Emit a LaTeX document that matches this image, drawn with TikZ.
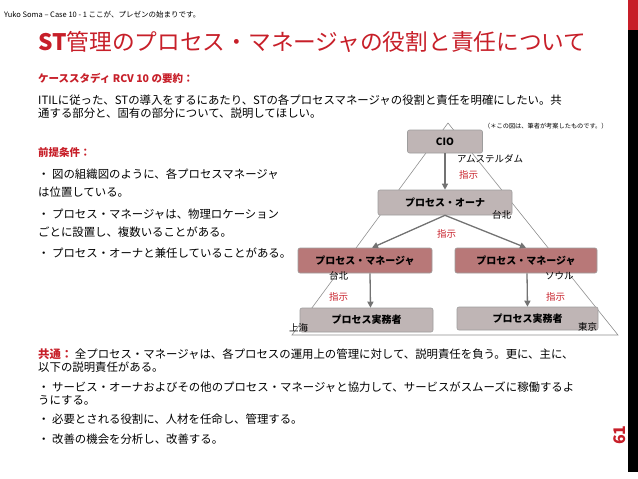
\documentclass[tikz,border=0pt]{standalone}
\usepackage{fontspec}
\setmainfont{Noto Sans CJK JP}
\usetikzlibrary{positioning,arrows.meta}
\definecolor{cred}{rgb}{0.78,0.12,0.16}
\definecolor{cgbox}{rgb}{0.75,0.71,0.71}
\definecolor{cmbox}{rgb}{0.72,0.47,0.47}
\definecolor{cline}{rgb}{0.45,0.45,0.45}
\tikzset{
  txt/.style={anchor=base west,inner sep=0pt,font=\fontsize{11.4}{12}\selectfont},
  redhead/.style={txt,text=cred,font=\fontsize{10.5}{12}\selectfont\bfseries},
  place/.style={anchor=base west,inner sep=0pt,font=\fontsize{9.5}{11}\selectfont},
  order/.style={anchor=base west,inner sep=0pt,text=cred,font=\fontsize{9.5}{11}\selectfont},
  graybox/.style={draw=cline!70,fill=cgbox,rounded corners=2pt,line width=0.6pt,font=\fontsize{10}{12}\selectfont\bfseries,inner sep=0pt},
  mgrbox/.style={graybox,fill=cmbox},
  down/.style={-{Triangle[length=6pt,width=6pt]},draw=cline,line width=1.3pt}
}
\begin{document}
\begin{tikzpicture}[x=1pt,y=-1pt]
\useasboundingbox (0,0) rectangle (638,479);
% side bar
\fill[cred] (628,0) rectangle (638,30);
\fill[black] (628,30) rectangle (638,472);
\node[rotate=90,text=cred,font=\fontsize{16}{16}\selectfont\bfseries] (page) at (620,435) {61};
% header
\node[anchor=base west,inner sep=0pt,font=\fontsize{7.5}{8}\selectfont] (author) at (4,17) {Yuko Soma – Case 10 - 1 ここが、プレゼンの始まりです。};
\node[anchor=base west,inner sep=0pt,text=cred,font=\fontsize{22.7}{26}\selectfont] (title) at (38,50) {\textbf{ST}管理のプロセス・マネージャの役割と責任について};
% summary
\node[redhead] (summary) at (38,82) {ケーススタディ RCV 10 の要約：};
\node[txt] (s1) at (38,104) {ITILに従った、STの導入をするにあたり、STの各プロセスマネージャの役割と責任を明確にしたい。共};
\node[txt] (s2) at (38,117) {通する部分と、固有の部分について、説明してほしい。};
\node[anchor=base west,inner sep=0pt,font=\fontsize{6.2}{7}\selectfont] (note) at (484,128) {（＊この図は、筆者が考案したものです。）};
% premises
\node[redhead] (premise) at (38,156) {前提条件：};
\node[txt] (p1) at (38,178) {・ 図の組織図のように、各プロセスマネージャ};
\node[txt] (p2) at (38,196) {は位置している。};
\node[txt] (p3) at (38,218) {・ プロセス・マネージャは、物理ロケーション};
\node[txt] (p4) at (38,236) {ごとに設置し、複数いることがある。};
\node[txt] (p5) at (38,257) {・ プロセス・オーナと兼任していることがある。};
% pyramid
\draw[cline!80,line width=0.6pt] (448,123) -- (292,335) -- (618,335) -- cycle;
\node[graybox,minimum width=75pt,minimum height=23pt] (cio) at (445,141.5) {CIO};
\node[graybox,minimum width=134pt,minimum height=25pt] (owner) at (445,202.5) {プロセス・オーナ};
\node[mgrbox,minimum width=134pt,minimum height=25pt] (mgrL) at (365,260.5) {プロセス・マネージャ};
\node[mgrbox,minimum width=142pt,minimum height=25pt] (mgrR) at (526,260.5) {プロセス・マネージャ};
\node[graybox,minimum width=133pt,minimum height=24pt] (opL) at (366.5,320) {プロセス実務者};
\node[graybox,minimum width=141pt,minimum height=23pt] (opR) at (527.5,318.5) {プロセス実務者};
\draw[down] (cio.south) -- (owner.north);
\draw[down] (owner.south) -- ([xshift=7pt]mgrL.north);
\draw[down] (owner.south) -- ([xshift=0pt]mgrR.north);
\draw[down] ([xshift=5pt]mgrL.south) -- ([xshift=4pt]opL.north);
\draw[down] ([xshift=1pt]mgrR.south) -- ([xshift=0pt]opR.north);
% labels
\node[place] (ams) at (457,162) {アムステルダム};
\node[order] (o1) at (459,178) {指示};
\node[place] (tpe1) at (492,218) {台北};
\node[order] (o2) at (437,237) {指示};
\node[place] (tpe2) at (329,279) {台北};
\node[place] (seoul) at (545,279) {ソウル};
\node[order] (o3) at (329,300) {指示};
\node[order] (o4) at (546,300) {指示};
\node[place] (sha) at (289,331) {上海};
\node[place] (tyo) at (578,330) {東京};
% common
\node[txt] (common1) at (38,358) {\textcolor{cred}{\bfseries 共通：}\ 全プロセス・マネージャは、各プロセスの運用上の管理に対して、説明責任を負う。更に、主に、};
\node[txt] (common2) at (38,371) {以下の説明責任がある。};
\node[txt] (c1) at (38,391) {・ サービス・オーナおよびその他のプロセス・マネージャと協力して、サービスがスムーズに稼働するよ};
\node[txt] (c2) at (38,404) {うにする。};
\node[txt] (c3) at (38,423) {・ 必要とされる役割に、人材を任命し、管理する。};
\node[txt] (c4) at (38,443) {・ 改善の機会を分析し、改善する。};
\end{tikzpicture}
\end{document}
